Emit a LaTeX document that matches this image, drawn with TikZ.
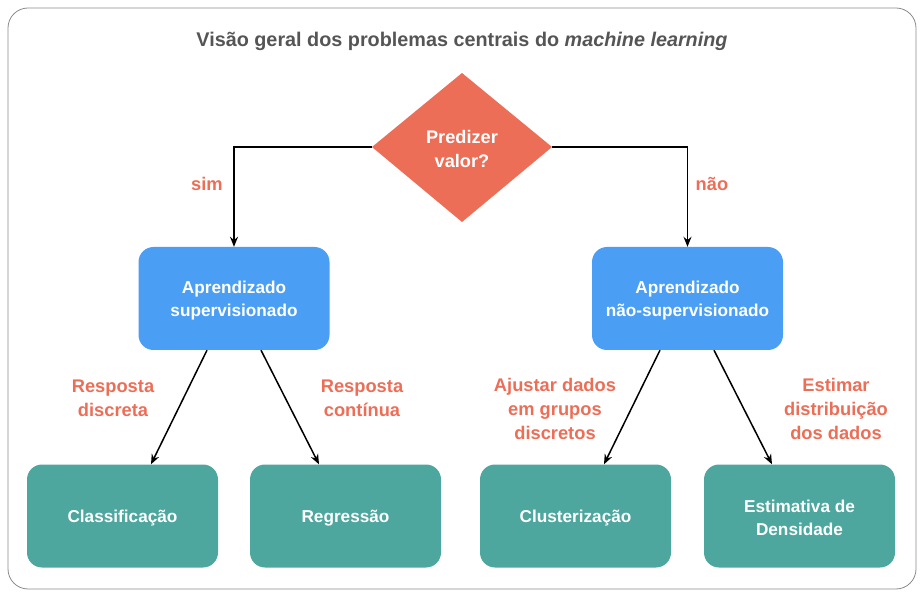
\documentclass[tikz,border=0pt]{standalone}
\usepackage{fontspec}
\setmainfont{Liberation Sans}
\usetikzlibrary{arrows.meta}
\definecolor{cOrange}{HTML}{EC6E57}
\definecolor{cBlue}{HTML}{4A9FF5}
\definecolor{cGreen}{HTML}{4DA79E}
\definecolor{cTitle}{HTML}{555555}
\definecolor{cFrame}{HTML}{8A8A8A}
\tikzset{
  boxbase/.style={rounded corners=15pt, minimum width=191pt, minimum height=103pt, inner sep=0pt},
  bluebox/.style={boxbase, fill=cBlue},
  greenbox/.style={boxbase, fill=cGreen},
  boxtext/.style={text=white, align=center, inner sep=0pt, font=\bfseries\fontsize{17.2}{23}\selectfont},
  lbl/.style={text=cOrange, align=center, font=\bfseries\fontsize{18.3}{24}\selectfont},
  conn/.style={draw=black, line width=1.5pt, -{Stealth[length=10pt,width=8pt]}},
}
\begin{document}
\begin{tikzpicture}[x=1pt,y=-1pt]
\useasboundingbox (0,0) rectangle (922,596);
\draw[cFrame, line width=0.8pt, rounded corners=20pt] (8,8) rectangle (916,589);
\node[text=cTitle, font=\bfseries\fontsize{19.8}{23}\selectfont] (title) at (462,41.5)
  {Visão geral dos problemas centrais do \textit{machine learning}};
% diamond
\path[fill=cOrange] (462,73) -- (552,147) -- (462,222) -- (372,147) -- cycle;
\coordinate (dtop) at (462,73);
\coordinate (dL) at (372,147);
\coordinate (dR) at (552,147);
\node[text=white, align=center, font=\bfseries\fontsize{18.2}{24}\selectfont] (dec) at (462,148.5) {Predizer\\valor?};
% boxes
\node[bluebox] (sup) at (234,298.5) {};
\node[bluebox] (unsup) at (687.5,298.5) {};
\node[greenbox] (cls) at (122.5,516) {};
\node[greenbox] (reg) at (345.5,516) {};
\node[greenbox] (clu) at (575.5,516) {};
\node[greenbox] (den) at (799.5,516) {};
\node[boxtext] (supT) at ([yshift=-2.5pt]sup.center) {Aprendizado\\supervisionado};
\node[boxtext] (unsupT) at ([yshift=-2.5pt]unsup.center) {Aprendizado\\não-supervisionado};
\node[boxtext] (clsT) at ([yshift=-2.5pt]cls.center) {Classificação};
\node[boxtext] (regT) at ([yshift=-2.5pt]reg.center) {Regressão};
\node[boxtext] (cluT) at ([yshift=-2.5pt]clu.center) {Clusterização};
\node[boxtext] (denT) at ([yshift=-2pt]den.center) {Estimativa de\\Densidade};
% connectors
\draw[conn] (dL) -| (sup.north);
\draw[conn] (dR) -| (unsup.north);
\draw[conn] ([xshift=-27pt]sup.south) -- ([xshift=28.5pt]cls.north);
\draw[conn] ([xshift=27pt]sup.south) -- ([xshift=-26.5pt]reg.north);
\draw[conn] ([xshift=-27.5pt]unsup.south) -- ([xshift=28.5pt]clu.north);
\draw[conn] ([xshift=26.5pt]unsup.south) -- ([xshift=-27.5pt]den.north);
% labels
\node[lbl] (lsim) at (207,183.5) {sim};
\node[lbl] (lnao) at (712,183.5) {não};
\node[lbl] (l1) at (113,398.5) {Resposta\\discreta};
\node[lbl] (l2) at (362,398.5) {Resposta\\contínua};
\node[lbl] (l3) at (555,408.5) {Ajustar dados\\em grupos\\discretos};
\node[lbl] (l4) at (836,408.5) {Estimar\\distribuição\\dos dados};
\end{tikzpicture}
\end{document}
